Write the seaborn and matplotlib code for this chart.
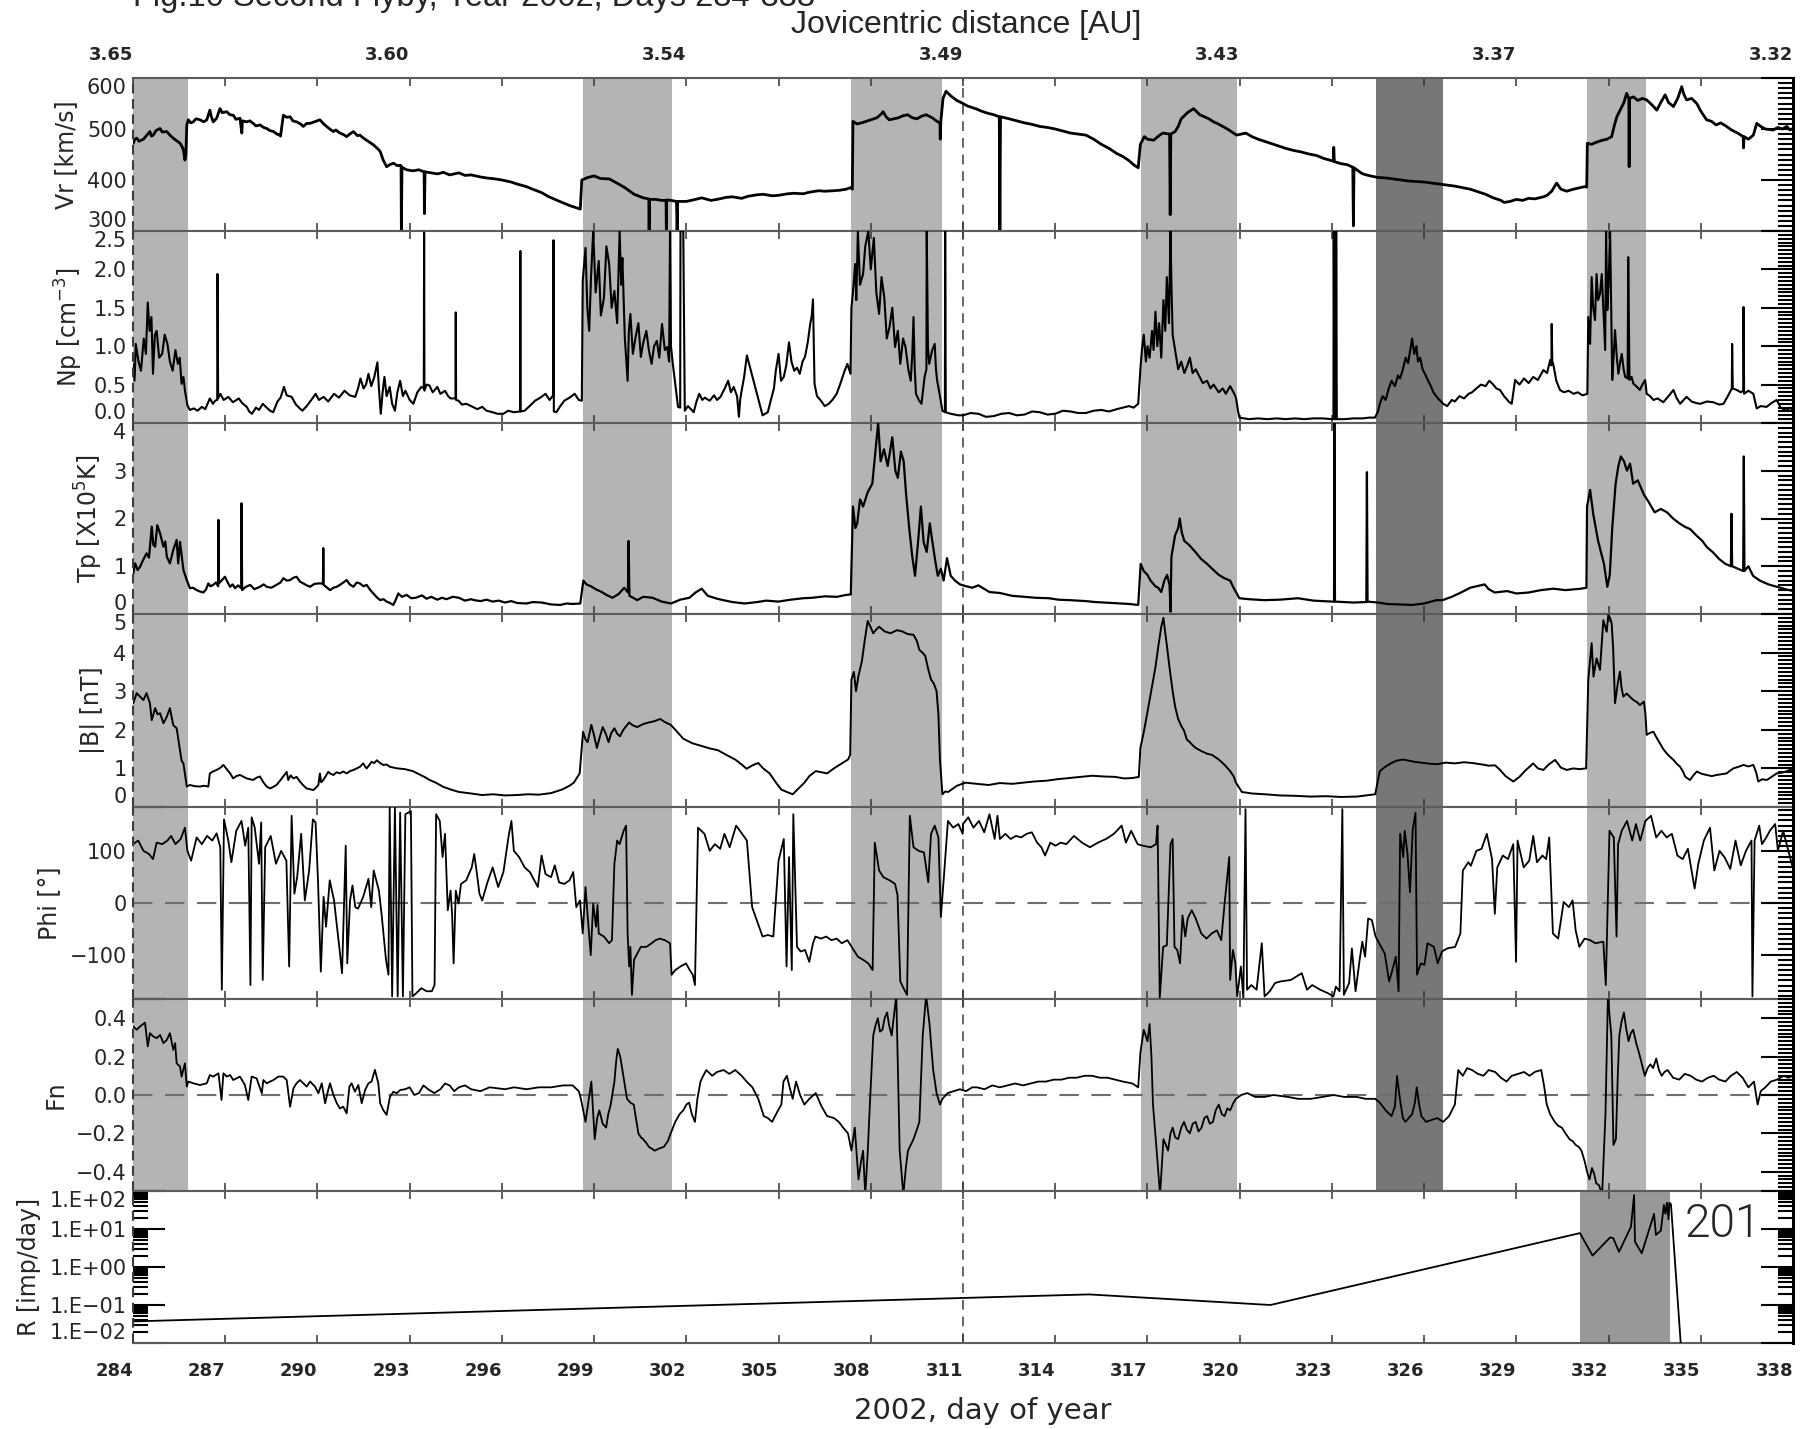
import numpy as np
import pandas as pd
import matplotlib
matplotlib.use("Agg")
import matplotlib.pyplot as plt
import seaborn as sns
from matplotlib.ticker import FixedLocator, MultipleLocator, LogLocator, NullFormatter, NullLocator

# ---------------------------------------------------------------- data
# Solar-wind speed [km/s]
vr_pts = [
(284.01,472),(284.06,480),(284.12,482),(284.2,476),(284.34,480),(284.45,488),(284.55,495),(284.6,486),(284.66,488),(284.75,497),
(284.88,501),(284.95,494),(285.10,495),(285.2,488),(285.31,482),(285.4,478),(285.53,472),(285.6,465),(285.64,459),(285.69,439),
(285.72,450),(285.75,508),(285.80,518),(285.88,512),(285.96,514),(286.05,520),(286.18,518),(286.3,514),(286.40,518),(286.50,537),
(286.55,524),(286.61,514),(286.72,521),(286.83,540),(286.9,532),(287.05,534),(287.15,528),(287.26,527),(287.35,519),(287.48,521),
(287.54,492),(287.56,516),(287.70,514),(287.8,516),(287.91,511),(288.0,506),(288.13,508),(288.25,503),(288.35,501),(288.45,497),
(288.57,495),(288.68,490),(288.78,488),(288.80,486),(288.89,527),(289.0,523),(289.11,524),(289.2,516),(289.32,514),(289.45,510),
(289.54,505),(289.65,511),(289.76,511),(289.9,514),(290.08,518),(290.2,510),(290.30,505),(290.4,500),(290.52,495),(290.6,498),
(290.73,492),(290.85,489),(290.95,485),(291.05,490),(291.17,495),(291.3,487),(291.38,488),(291.5,482),(291.60,478),(291.7,474),
(291.82,469),(291.95,462),(292.04,456),(292.14,439),(292.25,426),(292.35,430),(292.47,433),(292.6,428),(292.69,429),
(292.72,428),(292.73,300),(292.75,425),(292.9,420),(293.1,418),(293.3,420),(293.47,416),(293.48,334),(293.5,416),(293.7,414),
(293.9,412),(294.1,415),(294.3,410),(294.6,414),(294.8,409),(295.0,410),(295.3,406),(295.5,404),(295.8,402),(296.0,400),
(296.3,396),(296.5,392),(296.8,387),(297.0,382),(297.3,375),(297.5,368),(297.8,360),(298.0,355),(298.2,350),(298.4,346),
(298.55,343),(298.6,400),(298.8,405),(299.0,408),(299.2,403),(299.5,402),(299.8,392),(300.0,385),(300.3,372),(300.6,365),
(300.78,363),(300.79,300),(300.8,362),(301.0,362),(301.2,360),(301.34,360),(301.35,300),(301.36,361),(301.5,360),(301.68,358),
(301.7,300),(301.72,358),(302.0,358),(302.3,362),(302.5,365),(302.8,360),(303.0,362),(303.3,366),(303.5,367),(303.8,364),
(304.0,368),(304.3,371),(304.5,372),(304.8,369),(305.0,370),(305.3,373),(305.5,374),(305.8,373),(306.0,376),(306.3,379),
(306.5,378),(306.8,379),(307.0,380),(307.2,382),(307.35,385),(307.4,382),(307.42,515),(307.55,510),(307.7,512),(307.85,515),
(308.0,518),(308.2,522),(308.35,530),(308.4,534),(308.5,524),(308.6,518),(308.75,520),(308.9,522),(309.05,526),(309.2,528),
(309.35,522),(309.5,520),(309.65,525),(309.8,528),(310.0,522),(310.15,515),(310.25,512),(310.26,480),(310.28,515),(310.35,560),
(310.45,574),(310.6,565),(310.8,556),(311.0,550),(311.15,545),(311.3,542),(311.45,539),(311.6,535),(311.8,531),(312.0,528),
(312.18,524),(312.2,300),(312.22,524),(312.5,520),(312.75,516),(313.0,512),(313.25,509),(313.5,505),(313.75,503),(314.0,500),
(314.25,496),(314.5,492),(314.75,490),(315.0,488),(315.25,480),(315.5,470),(315.75,462),(316.0,452),(316.2,446),(316.4,438),
(316.55,430),(316.7,424),(316.77,470),(316.9,485),(317.0,480),(317.2,478),(317.4,488),(317.5,492),(317.72,490),(317.74,332),
(317.76,490),(317.9,495),(318.0,505),(318.1,520),(318.2,526),(318.3,532),(318.4,536),(318.5,540),(318.6,534),(318.7,528),
(318.85,524),(319.0,520),(319.15,514),(319.3,510),(319.45,505),(319.6,500),(319.75,494),(319.9,488),(320.05,490),(320.2,492),
(320.4,485),(320.6,480),(320.8,476),(321.0,472),(321.25,467),(321.5,462),(321.75,458),(322.0,455),(322.25,451),(322.5,448),
(322.75,442),(323.0,438),(323.05,437),(323.06,464),(323.08,436),(323.3,432),(323.5,430),(323.68,425),(323.7,310),(323.72,424),
(323.9,416),(324.0,412),(324.25,408),(324.5,405),(324.75,404),(325.0,402),(325.25,400),(325.5,398),(325.75,397),(326.0,396),
(326.25,394),(326.5,392),(326.75,390),(327.0,388),(327.25,385),(327.5,382),(327.75,377),(328.0,372),(328.25,365),(328.5,360),
(328.6,356),(328.8,358),(329.0,362),(329.2,360),(329.4,364),(329.6,363),(329.88,367),(330.0,370),(330.15,378),(330.31,394),
(330.45,382),(330.64,378),(330.8,381),(331.0,384),(331.23,387),(331.29,386),(331.31,472),(331.45,470),(331.6,474),(331.8,478),
(331.95,480),(332.1,485),(332.18,505),(332.27,524),(332.4,540),(332.5,552),(332.59,570),(332.66,560),(332.67,426),(332.68,560),
(332.81,563),(332.95,556),(333.1,560),(333.24,557),(333.4,548),(333.57,537),(333.7,552),(333.84,567),(333.95,552),(334.11,544),
(334.25,560),(334.38,583),(334.45,568),(334.54,557),(334.7,560),(334.87,550),(335.0,535),(335.19,518),(335.35,515),(335.5,508),
(335.65,512),(335.84,505),(336.0,498),(336.2,492),(336.38,485),(336.39,463),(336.41,485),(336.55,480),(336.71,488),(336.82,511),
(336.95,505),(337.1,500),(337.36,498),(337.5,503),(337.65,500),(337.8,505),(337.9,498),(338.0,501),
]

# Proton density [cm^-3]
np_pts = [
(284.00,0.77),(284.05,0.55),(284.09,1.03),(284.18,0.80),(284.26,0.68),(284.35,1.10),(284.42,0.90),(284.48,1.57),(284.54,1.20),(284.60,1.38),
(284.65,0.64),(284.71,1.15),(284.77,1.20),(284.85,0.85),(284.95,0.90),(285.03,1.15),(285.12,1.03),(285.2,0.80),(285.29,0.68),(285.38,0.95),
(285.46,0.77),(285.52,0.85),(285.58,0.51),(285.64,0.60),(285.69,0.42),(285.77,0.23),(285.85,0.17),(285.98,0.19),(286.1,0.16),(286.24,0.21),
(286.35,0.18),(286.50,0.32),(286.6,0.25),(286.67,0.29),(286.74,0.30),(286.75,1.94),(286.77,0.32),(286.84,0.38),(286.95,0.30),(287.10,0.34),
(287.25,0.27),(287.44,0.32),(287.55,0.26),(287.70,0.21),(287.78,0.15),(287.87,0.12),(288.0,0.20),(288.10,0.17),(288.22,0.25),(288.35,0.20),
(288.46,0.16),(288.56,0.14),(288.70,0.28),(288.80,0.33),(288.91,0.47),(289.0,0.36),(289.16,0.34),(289.3,0.24),(289.40,0.20),(289.51,0.16),
(289.65,0.22),(289.80,0.30),(289.94,0.38),(290.05,0.30),(290.20,0.34),(290.35,0.28),(290.54,0.38),(290.70,0.33),(290.88,0.42),(291.05,0.36),
(291.23,0.34),(291.32,0.45),(291.40,0.58),(291.50,0.45),(291.58,0.50),(291.66,0.64),(291.75,0.48),(291.85,0.60),(291.95,0.79),(292.0,0.45),
(292.06,0.12),(292.12,0.40),(292.18,0.60),(292.25,0.35),(292.35,0.47),(292.43,0.25),(292.52,0.16),(292.6,0.40),(292.69,0.55),(292.78,0.35),
(292.86,0.42),(293.0,0.30),(293.12,0.25),(293.25,0.40),(293.38,0.47),(293.46,0.45),(293.47,2.48),(293.48,0.42),(293.55,0.50),(293.64,0.49),
(293.75,0.40),(293.9,0.47),(294.0,0.38),(294.15,0.42),(294.25,0.35),(294.33,0.32),(294.49,0.32),(294.50,1.44),(294.51,0.30),(294.59,0.29),
(294.7,0.24),(294.84,0.25),(295.0,0.22),(295.2,0.18),(295.36,0.21),(295.5,0.16),(295.70,0.14),(295.85,0.12),(296.05,0.12),(296.2,0.16),
(296.39,0.14),(296.59,0.15),(296.60,2.24),(296.61,0.15),(296.74,0.16),(296.9,0.22),(297.08,0.29),(297.25,0.33),(297.42,0.38),(297.55,0.30),
(297.67,0.36),(297.68,2.38),(297.69,0.15),(297.77,0.14),(297.9,0.22),(298.03,0.29),(298.2,0.33),(298.37,0.38),(298.5,0.30),(298.60,0.29),
(298.63,1.85),(298.72,2.28),(298.78,1.50),(298.84,1.20),(298.90,1.90),(298.97,2.50),(299.05,1.70),(299.15,2.11),(299.22,1.40),(299.32,1.63),
(299.4,2.30),(299.49,2.07),(299.57,1.50),(299.66,1.72),(299.75,1.30),(299.83,2.50),(299.88,1.80),(299.92,2.15),(300.0,1.10),(300.09,0.55),
(300.13,1.20),(300.18,1.42),(300.26,0.90),(300.35,1.12),(300.44,1.30),(300.52,0.86),(300.6,1.05),(300.70,1.20),(300.78,0.95),(300.87,0.77),
(300.95,1.00),(301.04,1.07),(301.12,0.85),(301.21,1.29),(301.3,0.95),(301.38,0.99),(301.44,0.80),(301.47,2.50),(301.5,1.00),(301.56,0.77),
(301.64,0.51),(301.73,0.21),(301.80,0.20),(301.81,2.50),(301.90,2.50),(301.95,0.16),(302.05,0.22),(302.15,0.18),(302.24,0.14),(302.33,0.28),
(302.42,0.38),(302.52,0.30),(302.6,0.33),(302.76,0.29),(302.9,0.36),(303.0,0.30),(303.11,0.34),(303.25,0.45),(303.36,0.55),(303.45,0.40),
(303.54,0.47),(303.65,0.35),(303.71,0.08),(303.75,0.30),(303.79,0.40),(303.88,0.60),(303.97,0.88),(304.48,0.10),(304.56,0.12),(304.65,0.14),
(304.75,0.30),(304.85,0.45),(304.91,0.68),(305.0,0.90),(305.08,0.55),(305.17,0.60),(305.25,0.75),(305.34,1.05),(305.42,0.80),(305.51,0.68),
(305.6,0.72),(305.69,0.64),(305.78,0.80),(305.86,0.86),(305.95,1.05),(306.03,1.29),(306.08,1.40),(306.12,1.61),(306.17,0.51),(306.25,0.35),
(306.38,0.29),(306.5,0.22),(306.63,0.25),(306.75,0.30),(306.89,0.38),(307.0,0.50),(307.15,0.68),(307.24,0.77),(307.34,0.64),
(307.37,1.50),(307.42,1.70),(307.49,2.07),(307.53,1.60),(307.58,2.50),(307.65,1.80),(307.75,1.94),(307.82,2.30),(307.92,2.50),(308.0,2.00),
(308.10,2.41),(308.18,1.70),(308.27,1.42),(308.35,1.90),(308.44,1.63),(308.52,1.10),(308.61,1.25),(308.7,1.50),(308.79,0.99),(308.88,1.20),
(308.96,0.77),(309.05,1.10),(309.13,0.99),(309.22,0.70),(309.30,0.55),(309.35,0.90),(309.39,1.38),(309.43,0.70),(309.47,0.38),(309.56,0.30),
(309.65,0.25),(309.75,0.60),(309.81,0.70),(309.82,2.50),(309.86,1.00),(309.90,0.77),(310.0,0.95),(310.08,1.03),(310.12,0.70),(310.16,0.55),
(310.25,0.35),(310.33,0.16),(310.41,0.14),(310.42,2.50),(310.44,0.14),(310.6,0.12),(310.85,0.10),
(311.0,0.10),(311.25,0.13),(311.5,0.12),(311.75,0.08),(312.0,0.09),(312.25,0.12),(312.5,0.13),(312.75,0.10),(313.0,0.11),(313.25,0.15),
(313.5,0.14),(313.75,0.11),(314.0,0.12),(314.25,0.16),(314.5,0.15),(314.75,0.13),(315.0,0.13),(315.25,0.16),(315.5,0.17),(315.75,0.15),
(316.0,0.18),(316.2,0.20),(316.4,0.22),(316.55,0.20),(316.7,0.25),
(316.77,0.70),(316.82,0.95),(316.88,1.15),(316.95,0.80),(317.0,1.00),(317.07,0.85),(317.15,1.20),(317.2,0.95),(317.26,1.45),(317.32,1.00),
(317.38,1.30),(317.45,0.85),(317.52,1.60),(317.58,1.20),(317.63,1.90),(317.7,1.30),(317.75,2.50),(317.78,1.80),(317.82,1.15),(317.9,0.95),
(318.0,0.70),(318.1,0.80),(318.2,0.65),(318.3,0.75),(318.38,0.85),(318.47,0.65),(318.57,0.70),(318.7,0.60),(318.8,0.52),(318.94,0.55),
(319.05,0.45),(319.15,0.50),(319.32,0.40),(319.45,0.45),(319.55,0.38),(319.69,0.48),(319.8,0.40),(319.88,0.33),(319.95,0.15),(319.99,0.07),
(320.3,0.05),(320.6,0.06),(320.9,0.05),(321.2,0.06),(321.5,0.05),(321.8,0.06),(322.1,0.05),(322.4,0.06),(322.7,0.06),(323.0,0.05),
(323.05,0.05),(323.06,2.50),(323.08,0.05),(323.13,0.05),(323.14,2.50),(323.16,0.05),(323.4,0.05),(323.7,0.06),(324.0,0.06),(324.2,0.07),
(324.4,0.07),(324.5,0.15),(324.56,0.25),(324.65,0.35),(324.75,0.30),(324.85,0.45),(324.94,0.55),(325.05,0.48),(325.15,0.62),(325.22,0.58),
(325.31,0.70),(325.4,0.85),(325.48,0.78),(325.55,0.95),(325.61,1.10),(325.68,0.90),(325.75,1.00),(325.8,0.80),(325.87,0.85),(325.95,0.70),
(326.05,0.62),(326.13,0.55),(326.22,0.48),(326.3,0.40),(326.43,0.33),(326.55,0.28),(326.62,0.25),(326.75,0.22),(326.9,0.30),(327.0,0.28),
(327.15,0.35),(327.3,0.32),(327.45,0.38),(327.56,0.40),(327.7,0.45),(327.85,0.50),(328.0,0.48),(328.12,0.55),(328.25,0.50),(328.35,0.45),
(328.47,0.43),(328.6,0.35),(328.75,0.28),(328.85,0.25),(328.96,0.56),(329.1,0.50),(329.25,0.58),(329.4,0.52),(329.55,0.60),(329.7,0.56),
(329.88,0.69),(330.0,0.65),(330.10,0.82),(330.14,0.75),(330.15,1.29),(330.17,0.80),(330.20,0.77),(330.3,0.55),(330.42,0.43),(330.55,0.40),
(330.7,0.42),(330.86,0.38),(331.0,0.40),(331.15,0.36),(331.31,0.38),
(331.34,1.38),(331.40,1.03),(331.45,1.90),(331.50,1.50),(331.56,1.34),(331.61,1.94),(331.66,1.60),(331.72,1.68),(331.78,1.94),(331.84,1.40),
(331.89,0.95),(331.92,2.50),(331.96,1.47),(332.0,1.80),(332.05,2.50),(332.12,0.56),(332.17,0.90),(332.21,1.21),(332.27,0.85),(332.32,0.64),
(332.38,0.80),(332.43,0.90),(332.49,0.70),(332.54,0.60),(332.62,0.58),(332.64,2.16),(332.68,0.56),(332.75,0.60),(332.81,0.51),(332.9,0.48),
(333.02,0.43),(333.1,0.50),(333.19,0.56),(333.24,0.38),(333.35,0.35),(333.46,0.30),(333.6,0.32),(333.78,0.27),(333.95,0.35),(334.11,0.43),
(334.22,0.32),(334.33,0.25),(334.44,0.30),(334.54,0.34),(334.7,0.28),(334.85,0.26),(334.98,0.25),(335.2,0.28),(335.41,0.27),(335.6,0.24),
(335.74,0.25),(335.88,0.35),(336.01,0.45),(336.02,1.03),(336.04,0.45),(336.17,0.43),(336.3,0.40),(336.38,0.42),(336.39,1.51),(336.41,0.38),
(336.55,0.42),(336.71,0.38),(336.82,0.19),(336.95,0.22),(337.14,0.21),(337.3,0.26),(337.47,0.30),(337.6,0.20),(337.8,0.16),(337.9,0.20),
(338.0,0.17),
]

# Proton temperature [1e5 K]
tp_pts = [
(284.01,0.85),(284.07,1.06),(284.15,0.92),(284.23,0.99),(284.32,1.12),(284.44,1.27),(284.52,1.18),(284.61,1.83),(284.66,1.45),(284.72,1.41),
(284.79,1.86),(284.88,1.69),(284.99,1.41),(285.05,1.52),(285.10,1.20),(285.20,1.06),(285.31,1.34),(285.42,1.55),(285.47,1.06),(285.53,1.51),
(285.64,0.92),(285.75,0.71),(285.85,0.54),(285.95,0.55),(286.07,0.50),(286.18,0.47),(286.29,0.45),(286.38,0.52),(286.45,0.64),(286.52,0.58),
(286.61,0.61),(286.70,0.66),(286.77,0.58),(286.78,1.97),(286.79,0.64),(286.88,0.70),(286.99,0.78),(287.08,0.66),(287.16,0.57),(287.24,0.62),
(287.32,0.54),(287.42,0.60),(287.52,0.54),(287.53,2.32),(287.55,0.50),(287.65,0.56),(287.81,0.61),(287.95,0.52),(288.13,0.57),(288.25,0.62),
(288.35,0.57),(288.50,0.55),(288.67,0.61),(288.80,0.66),(288.89,0.75),(289.0,0.70),(289.11,0.71),(289.22,0.76),(289.32,0.78),(289.43,0.68),
(289.54,0.64),(289.65,0.60),(289.76,0.57),(289.9,0.63),(290.03,0.64),(290.18,0.64),(290.19,1.38),(290.20,0.61),(290.30,0.56),(290.41,0.50),
(290.52,0.55),(290.63,0.57),(290.8,0.64),(290.95,0.71),(291.05,0.62),(291.17,0.57),(291.28,0.66),(291.38,0.64),(291.5,0.58),(291.60,0.61),
(291.72,0.50),(291.82,0.43),(291.93,0.35),(292.04,0.29),(292.15,0.31),(292.25,0.26),(292.36,0.23),(292.47,0.19),(292.55,0.30),(292.63,0.43),
(292.75,0.36),(292.9,0.40),(293.05,0.33),(293.2,0.34),(293.4,0.39),(293.55,0.32),(293.7,0.36),(293.9,0.30),(294.05,0.34),(294.2,0.31),
(294.4,0.36),(294.6,0.34),(294.8,0.28),(295.0,0.31),(295.1,0.29),(295.3,0.27),(295.5,0.30),(295.7,0.26),(295.9,0.28),(296.1,0.24),
(296.3,0.27),(296.5,0.23),(296.8,0.22),(297.0,0.25),(297.3,0.24),(297.6,0.20),(297.9,0.19),(298.1,0.22),(298.3,0.21),(298.55,0.22),
(298.65,0.70),(298.75,0.62),(298.9,0.58),(299.05,0.52),(299.25,0.46),(299.4,0.40),(299.6,0.34),(299.8,0.42),(299.98,0.55),(300.10,0.45),
(300.12,1.53),(300.15,0.38),(300.3,0.33),(300.4,0.29),(300.6,0.36),(300.9,0.34),(301.2,0.26),(301.5,0.22),(301.8,0.30),(302.1,0.34),
(302.3,0.45),(302.5,0.53),(302.7,0.38),(303.0,0.32),(303.2,0.29),(303.5,0.25),(303.9,0.22),(304.3,0.25),(304.6,0.28),(305.0,0.26),
(305.4,0.30),(305.8,0.33),(306.1,0.34),(306.5,0.37),(306.9,0.36),(307.2,0.40),(307.35,0.41),
(307.42,2.25),(307.5,1.80),(307.56,1.90),(307.65,2.40),(307.75,2.25),(307.9,2.55),(308.05,2.73),(308.15,3.40),(308.24,4.0),(308.32,3.20),
(308.43,3.45),(308.55,3.10),(308.7,3.70),(308.8,3.00),(308.88,2.85),(308.98,3.40),(309.07,3.20),(309.15,2.50),(309.25,1.80),(309.35,1.20),
(309.44,0.80),(309.55,1.60),(309.63,2.25),(309.72,1.50),(309.82,1.30),(309.92,1.90),(310.0,1.53),(310.1,1.10),(310.18,0.80),(310.28,0.95),
(310.37,0.70),(310.48,1.17),(310.6,0.80),(310.74,0.70),(310.9,0.62),(311.11,0.58),(311.3,0.55),(311.5,0.60),(311.86,0.46),(312.2,0.44),
(312.6,0.38),(313.0,0.36),(313.35,0.34),(313.8,0.33),(314.1,0.30),(314.47,0.29),(315.0,0.27),(315.3,0.25),(315.6,0.24),(316.1,0.22),
(316.4,0.21),(316.7,0.19),
(316.78,1.05),(316.88,0.90),(317.0,0.82),(317.1,0.70),(317.26,0.58),(317.35,0.55),(317.45,0.46),(317.55,0.70),(317.64,0.82),(317.72,0.60),
(317.75,0.05),(317.78,1.20),(317.9,1.65),(318.0,1.80),(318.05,2.00),(318.12,1.70),(318.2,1.53),(318.35,1.45),(318.57,1.29),(318.75,1.15),
(318.94,1.05),(319.1,0.95),(319.32,0.82),(319.5,0.75),(319.69,0.70),(319.8,0.55),(319.88,0.46),(319.99,0.33),(320.3,0.31),(320.8,0.29),
(321.3,0.30),(321.9,0.33),(322.4,0.28),(323.0,0.26),(323.07,0.26),(323.08,4.0),(323.1,0.26),(323.4,0.25),(323.7,0.24),(324.12,0.25),
(324.14,2.97),(324.16,0.26),(324.5,0.24),(324.8,0.21),(325.2,0.20),(325.6,0.19),(326.0,0.22),(326.4,0.29),(326.6,0.29),(326.9,0.36),
(327.2,0.45),(327.5,0.55),(327.97,0.62),(328.1,0.52),(328.3,0.45),(328.7,0.48),(329.0,0.43),(329.4,0.45),(329.8,0.50),(330.2,0.53),
(330.6,0.50),(331.1,0.53),(331.28,0.55),
(331.3,2.25),(331.4,2.60),(331.5,2.10),(331.66,1.53),(331.75,1.30),(331.85,1.05),(331.96,0.57),(332.04,0.82),(332.12,1.80),(332.23,2.73),
(332.32,3.10),(332.4,3.30),(332.5,3.20),(332.6,3.00),(332.7,3.15),(332.8,2.73),(332.95,2.80),(333.15,2.50),(333.3,2.35),(333.5,2.13),
(333.7,2.20),(333.9,2.13),(334.1,2.00),(334.3,1.90),(334.5,1.82),(334.65,1.78),(334.85,1.65),(335.05,1.53),(335.2,1.40),(335.4,1.29),
(335.6,1.15),(335.8,1.05),(335.98,1.00),(336.0,2.10),(336.02,1.00),(336.2,0.95),(336.38,0.90),(336.4,3.30),(336.42,0.90),(336.55,1.00),
(336.7,0.80),(336.92,0.70),(337.2,0.62),(337.48,0.57),(337.75,0.52),(338.0,0.48),
]

# Magnetic field magnitude [nT]
b_pts = [
(284.01,2.69),(284.12,2.95),(284.23,2.86),(284.34,2.77),(284.44,2.95),(284.55,2.69),(284.61,2.25),(284.72,2.56),(284.80,2.40),(284.88,2.43),
(284.99,2.17),(285.10,2.34),(285.20,2.56),(285.31,2.12),(285.42,2.04),(285.53,1.47),(285.58,1.20),(285.64,1.13),(285.70,0.80),(285.75,0.53),
(285.85,0.57),(286.0,0.54),(286.18,0.53),(286.30,0.55),(286.45,0.53),(286.50,0.87),(286.60,0.92),(286.72,0.96),(286.85,1.02),(286.94,1.09),
(287.05,0.98),(287.16,0.87),(287.26,0.74),(287.36,0.80),(287.48,0.83),(287.6,0.78),(287.70,0.74),(287.80,0.72),(287.91,0.70),(288.02,0.76),
(288.13,0.79),(288.24,0.64),(288.35,0.53),(288.46,0.48),(288.56,0.52),(288.67,0.57),(288.80,0.70),(289.0,0.91),(289.05,0.70),(289.13,0.82),
(289.22,0.74),(289.32,0.78),(289.43,0.66),(289.54,0.56),(289.65,0.48),(289.76,0.46),(289.87,0.44),(289.95,0.50),(290.03,0.57),(290.08,0.87),
(290.12,0.64),(290.19,0.70),(290.27,0.80),(290.35,0.91),(290.43,0.86),(290.52,0.83),(290.62,0.90),(290.73,0.87),(290.84,0.92),(290.95,0.87),
(291.06,0.93),(291.17,0.96),(291.28,1.00),(291.38,1.04),(291.49,1.13),(291.55,1.05),(291.60,1.00),(291.68,1.08),(291.76,1.17),(291.85,1.14),
(291.93,1.21),(292.04,1.14),(292.14,1.09),(292.25,1.10),(292.36,1.04),(292.6,1.0),(292.85,0.98),(293.1,0.93),(293.3,0.85),(293.48,0.78),
(293.65,0.70),(293.85,0.63),(294.1,0.52),(294.35,0.45),(294.6,0.39),(295.0,0.35),(295.35,0.31),(295.72,0.33),(296.1,0.30),(296.5,0.31),
(296.85,0.33),(297.2,0.32),(297.6,0.36),(297.95,0.45),(298.2,0.55),(298.34,0.63),(298.53,0.87),
(298.64,1.95),(298.72,1.75),(298.79,1.68),(298.85,1.90),(298.91,2.13),(299.0,1.85),(299.09,1.53),(299.18,1.80),(299.28,2.07),(299.38,1.90),
(299.47,1.68),(299.56,1.92),(299.66,2.04),(299.75,1.90),(299.84,1.83),(299.95,2.00),(300.05,2.10),(300.14,2.19),(300.25,2.12),(300.4,2.07),
(300.6,2.15),(300.78,2.19),(300.95,2.22),(301.15,2.28),(301.3,2.20),(301.49,2.13),(301.7,1.95),(301.9,1.77),(302.2,1.65),(302.46,1.59),
(302.75,1.52),(303.03,1.47),(303.3,1.35),(303.59,1.23),(303.8,1.10),(303.96,0.99),(304.15,1.08),(304.34,1.14),(304.5,1.00),(304.71,0.87),
(304.9,0.65),(305.09,0.45),(305.3,0.38),(305.46,0.33),(305.65,0.48),(305.84,0.63),(306.0,0.80),(306.21,0.93),(306.4,0.90),(306.58,0.87),
(306.8,1.00),(306.96,1.08),(307.1,1.15),(307.26,1.23),(307.33,1.35),
(307.37,3.30),(307.45,3.50),(307.52,3.00),(307.6,3.40),(307.71,3.77),(307.8,4.30),(307.9,4.82),(308.0,4.65),(308.08,4.50),(308.18,4.60),
(308.27,4.67),(308.45,4.55),(308.64,4.50),(308.85,4.58),(309.02,4.55),(309.2,4.48),(309.39,4.46),(309.5,4.30),(309.58,4.07),(309.68,4.00),
(309.77,3.92),(309.86,3.60),(309.96,3.30),(310.05,3.20),(310.14,3.00),(310.2,2.40),(310.25,1.23),(310.33,0.33),(310.42,0.40),(310.52,0.39),
(310.8,0.55),(311.08,0.63),(311.45,0.60),(311.83,0.57),(312.2,0.62),(312.6,0.60),(312.95,0.63),(313.3,0.66),(313.7,0.68),(314.07,0.72),
(314.45,0.75),(314.8,0.78),(315.2,0.81),(315.6,0.79),(315.95,0.78),(316.25,0.74),(316.51,0.75),(316.72,0.78),
(316.77,1.53),(316.87,1.90),(316.96,2.28),(317.1,2.90),(317.26,3.62),(317.36,4.20),(317.45,4.67),(317.52,4.90),(317.58,4.50),(317.63,4.20),
(317.72,3.60),(317.82,3.00),(317.9,2.60),(318.0,2.28),(318.1,2.10),(318.19,1.98),(318.28,1.75),(318.38,1.68),(318.47,1.60),(318.57,1.53),
(318.75,1.45),(318.94,1.38),(319.1,1.35),(319.32,1.23),(319.5,1.10),(319.69,0.93),(319.8,0.80),(319.88,0.63),(320.07,0.39),(320.4,0.35),
(320.82,0.33),(321.3,0.30),(321.8,0.29),(322.31,0.27),(322.8,0.28),(323.3,0.26),(323.81,0.27),(324.1,0.30),(324.41,0.33),
(324.5,0.70),(324.56,0.93),(324.75,1.05),(324.94,1.14),(325.1,1.20),(325.31,1.23),(325.5,1.20),(325.69,1.17),(326.0,1.14),(326.2,1.12),
(326.43,1.11),(326.7,1.15),(327.0,1.13),(327.3,1.16),(327.56,1.14),(327.9,1.10),(328.1,1.07),(328.31,1.08),(328.47,0.96),
(328.65,0.80),(328.9,0.66),(329.1,0.78),(329.3,0.95),(329.55,1.13),(329.7,1.00),(329.88,0.96),(330.05,1.10),(330.26,1.22),(330.45,1.02),
(330.64,0.96),(330.85,1.00),(331.05,0.98),(331.27,1.00),
(331.34,3.29),(331.45,4.24),(331.51,3.38),(331.61,3.85),(331.72,3.55),(331.83,4.84),(331.94,4.54),(331.99,4.97),(332.05,4.90),(332.1,4.76),
(332.15,4.10),(332.21,2.69),(332.3,3.20),(332.37,3.51),(332.42,3.10),(332.48,2.86),(332.59,2.94),(332.7,2.85),(332.81,2.77),(332.92,2.72),
(333.02,2.64),(333.15,2.73),(333.2,2.40),(333.24,1.87),(333.35,1.92),(333.46,1.95),(333.56,1.80),(333.67,1.65),(333.78,1.50),(333.89,1.39),
(334.0,1.30),(334.11,1.22),(334.22,1.12),(334.33,1.04),(334.42,0.92),(334.49,0.79),(334.57,0.74),(334.65,0.70),(334.76,0.82),(334.87,0.92),
(335.03,0.86),(335.19,0.83),(335.35,0.80),(335.52,0.83),(335.68,0.85),(335.84,0.87),(335.95,0.94),(336.06,1.00),(336.22,1.04),(336.39,1.09),
(336.55,1.05),(336.71,1.09),(336.8,0.90),(336.87,0.66),(337.0,0.72),(337.15,0.70),(337.3,0.78),(337.47,0.87),(337.7,0.90),(337.9,0.96),
(338.0,0.95),
]

# Field azimuth Phi [deg]
phi_pts = [
(284.00,114),(284.17,121),(284.34,101),(284.52,95),(284.65,85),(284.77,117),(284.95,114),(285.12,121),(285.24,130),(285.38,114),
(285.55,124),(285.69,146),(285.77,101),(285.89,82),(286.07,127),(286.24,114),(286.41,130),(286.58,121),(286.72,135),(286.84,108),
(286.89,-168),(286.96,162),(287.10,121),(287.20,79),(287.36,140),(287.53,159),(287.65,111),(287.75,146),(287.82,-159),(287.86,166),
(287.96,146),(288.10,76),(288.17,156),(288.22,-149),(288.30,108),(288.48,130),(288.65,76),(288.82,101),(288.99,82),(289.08,-123),
(289.16,169),(289.25,18),(289.34,50),(289.47,134),(289.59,5),(289.73,63),(289.85,162),(289.94,156),(290.02,40),(290.11,-133),
(290.20,12),(290.28,-46),(290.40,44),(290.54,5),(290.71,-85),(290.80,-136),(290.92,111),(290.97,-117),(291.06,5),(291.14,34),
(291.23,-8),(291.32,-11),(291.49,12),(291.66,47),(291.75,-8),(291.83,63),(292.00,24),(292.09,-24),(292.23,-110),(292.31,-139),
(292.35,185),(292.43,-181),(292.52,185),(292.61,-181),(292.69,175),(292.78,-181),(292.86,172),(293.04,178),(293.09,-181),(293.21,-175),
(293.38,-165),(293.55,-171),(293.72,-171),(293.81,-159),(293.86,172),(293.98,159),(294.07,89),(294.15,134),(294.24,-14),(294.33,24),
(294.38,-21),(294.43,-117),(294.50,24),(294.59,-1),(294.67,37),(294.84,44),(295.02,69),(295.10,95),(295.19,56),(295.27,18),
(295.36,5),(295.53,40),(295.70,69),(295.88,31),(296.05,60),(296.22,130),(296.31,159),(296.39,101),(296.56,89),(296.74,69),
(296.91,60),(297.17,31),(297.29,92),(297.42,56),(297.60,50),(297.72,73),(297.86,40),(298.03,37),(298.20,44),(298.32,60),
(298.42,-8),(298.54,5),(298.63,-59),(298.72,31),(298.80,-33),(298.89,-101),(298.97,-1),(299.06,-46),(299.11,-4),(299.15,-59),
(299.32,-65),(299.49,-78),(299.58,-72),(299.66,76),(299.75,121),(299.83,114),(299.96,140),(300.04,150),(300.09,-59),(300.14,-123),
(300.18,-85),(300.23,-178),(300.30,-110),(300.35,-104),(300.52,-85),(300.70,-85),(300.87,-78),(301.00,-72),(301.13,-69),(301.30,-72),
(301.47,-78),(301.52,-139),(301.64,-130),(301.81,-123),(301.99,-117),(302.11,-130),(302.21,-139),(302.28,-159),(302.38,146),(302.59,134),
(302.76,101),(302.93,114),(303.10,105),(303.24,134),(303.41,108),(303.62,150),(303.97,121),(304.14,-8),(304.48,-65),(304.65,-62),
(304.83,-65),(305.00,82),(305.17,124),(305.26,-123),(305.34,89),(305.43,-130),(305.48,172),(305.60,-85),(305.72,-94),(305.86,-91),
(306.00,-114),(306.12,-78),(306.20,-65),(306.38,-69),(306.55,-65),(306.72,-72),(306.89,-69),(307.06,-78),(307.24,-72),(307.41,-88),
(307.58,-104),(307.75,-110),(307.92,-117),(308.06,-130),(308.13,117),(308.27,63),(308.41,50),(308.61,44),(308.79,37),(308.87,15),
(308.96,-152),(309.09,-168),(309.18,-178),(309.27,169),(309.39,108),(309.56,101),(309.73,98),(309.87,40),(309.96,134),(310.08,150),
(310.20,127),(310.28,-27),(310.37,44),(310.51,159),(310.68,146),(310.85,153),(310.99,134),
(311.00,153),(311.17,166),(311.34,146),(311.52,159),(311.69,137),(311.86,172),(312.03,124),(312.12,169),(312.20,124),(312.38,134),
(312.55,124),(312.72,130),(312.89,127),(313.07,134),(313.24,137),(313.41,117),(313.55,108),(313.67,92),(313.84,117),(314.01,111),
(314.18,117),(314.36,114),(314.61,130),(314.87,117),(315.13,108),(315.39,117),(315.65,124),(315.91,134),(316.16,150),(316.30,117),
(316.47,140),(316.68,114),(316.85,111),(317.11,108),(317.28,114),(317.33,150),(317.40,-184),(317.51,-85),(317.63,-82),(317.75,114),
(317.82,124),(317.88,-85),(317.97,-91),(318.06,-117),(318.14,-24),(318.23,-65),(318.31,-30),(318.44,-14),(318.57,-30),(318.75,-59),
(318.92,-69),(319.09,-59),(319.26,-53),(319.40,-72),(319.52,5),(319.61,60),(319.66,89),(319.69,-149),(319.78,-91),(319.86,-117),
(319.92,-181),(320.04,-123),(320.12,-185),(320.19,182),(320.24,-168),(320.38,-159),(320.55,-168),(320.72,-78),(320.81,-181),(320.98,-171),
(321.15,-155),(321.33,-152),(321.67,-149),(322.02,-136),(322.19,-168),(322.36,-159),(322.62,-168),(322.88,-175),(323.05,-181),(323.13,-162),
(323.25,-171),(323.34,182),(323.39,-178),(323.56,-155),(323.65,-88),(323.77,-171),(323.91,-107),(323.99,-75),(324.08,-104),(324.18,-30),
(324.30,-33),(324.42,-65),(324.60,-85),(324.72,-98),(324.86,-152),(324.94,-136),(325.08,-104),(325.17,-171),(325.22,134),(325.32,89),
(325.37,140),(325.46,95),(325.54,21),(325.63,143),(325.72,175),(325.77,-139),(325.89,-117),(326.01,-120),(326.11,-78),(326.32,-85),
(326.44,-117),(326.58,-94),(326.75,-88),(327.01,-85),(327.18,-59),(327.26,63),(327.44,79),(327.52,72),(327.70,101),(327.87,105),
(328.04,134),(328.21,85),(328.30,-21),(328.38,69),(328.56,92),(328.73,85),(328.90,114),(328.99,-114),(329.04,121),(329.24,69),
(329.42,82),(329.55,130),(329.67,79),(329.85,92),(329.97,85),(330.07,127),(330.19,-59),(330.36,-69),(330.54,2),(330.71,-8),
(330.83,5),(330.93,-53),(331.05,-85),(331.22,-69),(331.40,-72),(331.57,-78),(331.83,-75),(331.91,-159),(332.03,140),(332.17,127),
(332.26,-65),(332.31,114),(332.43,140),(332.60,159),(332.77,121),(332.89,153),(333.03,121),(333.20,159),(333.38,169),(333.55,127),
(333.72,140),(333.89,127),(334.06,134),(334.24,92),(334.41,85),(334.58,105),(334.80,28),(334.92,76),(335.10,121),(335.30,146),
(335.44,63),(335.61,101),(335.78,88),(335.96,66),(336.13,121),(336.30,73),(336.47,101),(336.65,121),(336.68,-181),(336.75,121),
(336.90,150),(336.99,114),(337.13,127),(337.25,140),(337.42,153),(337.51,101),(337.68,140),(337.85,101),(337.99,69),
]

# Normal field component Fn
fn_pts = [
(284.01,0.357),(284.12,0.340),(284.23,0.357),(284.39,0.377),(284.48,0.253),(284.55,0.322),(284.66,0.305),(284.77,0.296),(284.88,0.313),(284.99,0.270),
(285.10,0.287),(285.20,0.322),(285.31,0.235),(285.37,0.270),(285.42,0.165),(285.53,0.148),(285.58,0.096),(285.69,0.165),(285.75,0.044),(285.80,0.070),
(285.96,0.061),(286.18,0.052),(286.40,0.061),(286.50,0.104),(286.61,0.096),(286.78,0.113),(286.88,-0.026),(286.94,0.113),(287.05,0.096),(287.16,0.104),
(287.26,0.078),(287.37,0.087),(287.48,0.096),(287.64,0.052),(287.75,-0.026),(287.86,0.096),(288.02,0.087),(288.19,0.009),(288.24,0.078),(288.35,0.061),
(288.46,0.070),(288.57,0.078),(288.73,0.096),(288.89,0.096),(289.00,0.078),(289.11,-0.061),(289.22,0.035),(289.32,0.061),(289.43,0.078),(289.54,0.061),
(289.65,0.044),(289.76,0.070),(289.92,0.044),(290.03,0.009),(290.14,0.061),(290.25,-0.043),(290.35,0.026),(290.41,0.061),(290.52,0.000),(290.63,-0.043),
(290.73,-0.070),(290.84,-0.061),(290.95,-0.096),(291.04,0.044),(291.11,0.061),(291.22,0.017),(291.33,0.052),(291.44,-0.043),(291.55,0.026),(291.66,0.061),
(291.76,0.070),(291.87,0.131),(291.98,0.061),(292.04,-0.043),(292.14,-0.078),(292.25,-0.104),(292.36,-0.009),(292.47,0.017),(292.58,0.009),(292.69,0.026),
(292.85,0.03),(293.0,0.04),(293.15,0.00),(293.3,0.01),(293.45,0.05),(293.6,0.03),(293.8,0.01),(294.0,0.03),(294.15,0.06),(294.3,0.05),
(294.45,0.02),(294.6,0.04),(294.8,0.05),(295.0,0.03),(295.3,0.02),(295.6,0.04),(296.1,0.03),(296.4,0.04),(296.8,0.03),(297.2,0.04),
(297.6,0.04),(298.0,0.05),(298.3,0.05),(298.5,0.02),(298.57,-0.02),
(298.72,-0.14),(298.8,-0.05),(298.91,0.07),(299.02,-0.23),(299.1,-0.12),(299.17,-0.08),(299.28,-0.15),(299.39,-0.17),(299.46,-0.10),(299.54,-0.05),
(299.66,0.07),(299.72,0.18),(299.77,0.24),(299.85,0.20),(299.92,0.13),(300.0,0.05),(300.07,-0.02),(300.18,-0.04),(300.29,-0.05),(300.36,-0.12),
(300.44,-0.20),(300.52,-0.22),(300.59,-0.23),(300.7,-0.25),(300.78,-0.27),(300.88,-0.28),(300.97,-0.29),(301.1,-0.28),(301.27,-0.27),(301.4,-0.24),
(301.49,-0.20),(301.64,-0.14),(301.78,-0.10),(301.9,-0.08),(302.0,-0.05),(302.09,-0.04),(302.18,-0.10),(302.28,-0.14),(302.36,-0.02),(302.46,0.07),
(302.55,0.10),(302.65,0.13),(302.84,0.10),(303.0,0.12),(303.21,0.13),(303.4,0.11),(303.59,0.13),(303.8,0.10),(303.96,0.07),(304.15,0.04),
(304.34,-0.02),(304.52,-0.11),(304.65,-0.12),(304.79,-0.14),(304.95,-0.09),(305.09,-0.05),(305.16,0.07),(305.27,0.10),(305.36,0.04),(305.46,-0.02),
(305.57,0.07),(305.7,0.00),(305.84,-0.05),(306.0,-0.02),(306.21,0.01),(306.4,-0.06),(306.58,-0.11),(306.8,-0.12),(306.96,-0.14),(307.1,-0.17),
(307.26,-0.20),(307.37,-0.29),
(307.48,-0.17),(307.6,-0.44),(307.68,-0.35),(307.75,-0.29),(307.82,-0.52),(307.9,-0.30),(307.97,-0.05),(308.08,0.31),(308.15,0.36),(308.23,0.40),
(308.3,0.33),(308.38,0.34),(308.45,0.40),(308.53,0.43),(308.6,0.36),(308.68,0.31),(308.76,0.42),(308.83,0.52),(308.94,-0.29),(309.06,-0.52),
(309.14,-0.38),(309.21,-0.29),(309.3,-0.26),(309.39,-0.23),(309.5,-0.18),(309.58,-0.14),(309.69,0.31),(309.8,0.52),(309.91,0.37),(310.03,0.13),
(310.14,0.01),(310.25,-0.05),(310.33,-0.02),
(310.5,0.01),(310.7,0.02),(310.9,0.03),(311.1,0.02),(311.3,0.04),(311.45,0.04),(311.7,0.03),(311.95,0.05),(312.2,0.04),(312.45,0.05),
(312.7,0.06),(312.95,0.05),(313.2,0.06),(313.45,0.07),(313.7,0.07),(313.95,0.08),(314.2,0.08),(314.45,0.09),(314.7,0.09),(314.95,0.10),
(315.2,0.10),(315.45,0.09),(315.7,0.09),(315.95,0.08),(316.2,0.07),(316.51,0.06),(316.7,0.04),
(316.77,0.22),(316.88,0.34),(317.0,0.28),(317.07,0.37),(317.13,0.20),(317.18,-0.05),(317.3,-0.29),(317.41,-0.52),(317.52,-0.23),(317.6,-0.26),
(317.67,-0.29),(317.75,-0.20),(317.82,-0.17),(317.9,-0.22),(318.0,-0.23),(318.1,-0.17),(318.19,-0.14),(318.28,-0.18),(318.38,-0.20),(318.47,-0.15),
(318.57,-0.14),(318.66,-0.19),(318.76,-0.17),(318.85,-0.12),(318.94,-0.11),(319.03,-0.15),(319.13,-0.14),(319.22,-0.08),(319.32,-0.05),(319.42,-0.10),
(319.51,-0.11),(319.6,-0.07),(319.69,-0.08),(319.8,-0.04),(319.88,-0.02),
(320.05,0.00),(320.25,0.01),(320.5,-0.01),(320.82,-0.01),(321.1,0.00),(321.57,-0.01),(321.9,-0.02),(322.31,-0.02),(322.7,-0.01),(323.06,0.00),
(323.4,-0.01),(323.81,-0.01),(324.1,-0.02),(324.41,-0.02),
(324.56,-0.04),(324.75,-0.08),(324.94,-0.11),(325.05,-0.06),(325.12,0.10),(325.18,0.02),(325.24,-0.05),(325.31,-0.12),(325.39,-0.14),(325.5,-0.12),
(325.61,-0.10),(325.7,-0.04),(325.76,0.04),(325.84,-0.05),(325.91,-0.11),(326.06,-0.14),(326.25,-0.13),(326.43,-0.12),(326.62,-0.14),(326.81,-0.11),
(327.0,-0.05),(327.11,0.13),(327.26,0.10),(327.4,0.14),(327.56,0.13),(327.75,0.11),(327.93,0.10),(328.1,0.13),(328.31,0.12),(328.5,0.09),
(328.68,0.07),(328.85,0.10),(329.06,0.11),(329.25,0.12),(329.43,0.10),(329.6,0.12),(329.81,0.13),(329.9,0.05),(329.99,-0.05),(330.1,-0.10),
(330.25,-0.14),(330.36,-0.16),(330.48,-0.17),(330.6,-0.20),(330.73,-0.23),(330.83,-0.24),(330.93,-0.26),(331.03,-0.27),(331.12,-0.29),
(331.23,-0.35),(331.3,-0.40),(331.38,-0.44),(331.46,-0.38),(331.53,-0.41),(331.6,-0.46),(331.69,-0.47),(331.79,-0.52),(331.9,-0.10),(331.98,0.52),
(332.04,0.40),(332.09,0.31),(332.16,-0.26),(332.24,-0.23),(332.3,0.10),(332.35,0.31),(332.42,0.38),(332.5,0.43),(332.57,0.35),(332.65,0.28),
(332.72,0.32),(332.8,0.34),(332.9,0.27),(332.99,0.22),(333.1,0.15),(333.18,0.10),(333.27,0.14),(333.36,0.16),(333.45,0.14),(333.55,0.19),
(333.64,0.13),(333.73,0.10),(333.82,0.12),(333.92,0.13),(334.1,0.09),(334.3,0.08),(334.48,0.11),(334.67,0.10),(334.85,0.08),(335.04,0.07),
(335.23,0.09),(335.42,0.10),(335.6,0.08),(335.8,0.07),(335.98,0.10),(336.17,0.12),(336.36,0.09),(336.55,0.04),(336.73,0.07),(336.85,-0.05),
(336.95,0.02),(337.1,0.04),(337.28,0.07),(337.48,0.08),(337.7,0.10),(337.85,0.09),(338.0,0.10),
]

# Dust impact rate R [impacts/day]
r_pts = [
(284.0,0.037),(315.1,0.19),(321.0,0.10),(331.07,7.8),(331.48,2.0),(332.05,6.0),(332.15,5.8),(332.34,2.5),(332.73,11.5),(332.83,78),
(332.86,4.6),(333.08,2.3),(333.48,25),(333.54,7.0),(333.7,9.0),(333.8,43),(333.85,25),(333.9,49),(333.95,18),(333.98,49),
(334.03,45),(334.39,0.00316),
]

# interval markers
light_bands = [(284.0, 285.79), (298.63, 301.52), (307.37, 310.33), (316.78, 319.90), (331.31, 333.21)]
dark_band = (324.42, 326.61)
r_band = (331.07, 334.0)
marker_day = 311.0

day_ticks = list(range(284, 339, 3))
dist_days = [284, 293, 302, 311, 320, 329, 338]
dist_labels = ["3.65", "3.60", "3.54", "3.49", "3.43", "3.37", "3.32"]

panels = [
    dict(pts=vr_pts, lim=(300, 600), ticks=[300, 400, 500, 600], labels=["300", "400", "500", "600"],
         minor=10, ylabel="Vr [km/s]", lw=2.0),
    dict(pts=np_pts, lim=(0, 2.5), ticks=[0, 0.5, 1.0, 1.5, 2.0, 2.5],
         labels=["0.0", "0.5", "1.0", "1.5", "2.0", "2.5"], minor=0.05, ylabel="Np [cm$^{-3}$]", lw=1.5),
    dict(pts=tp_pts, lim=(0, 4), ticks=[0, 1, 2, 3, 4], labels=["0", "1", "2", "3", "4"],
         minor=0.1, ylabel="Tp [X10$^5$K]", lw=1.6),
    dict(pts=b_pts, lim=(0, 5), ticks=[0, 1, 2, 3, 4, 5], labels=["0", "1", "2", "3", "4", "5"],
         minor=0.1, ylabel="|B| [nT]", lw=1.4),
    dict(pts=phi_pts, lim=(-186, 186), ticks=[-100, 0, 100], labels=["\u2212100", "0", "100"],
         minor=10, ylabel="Phi [\u00b0]", zero=True, lw=1.3),
    dict(pts=fn_pts, lim=(-0.5, 0.5), ticks=[-0.4, -0.2, 0.0, 0.2, 0.4],
         labels=["\u22120.4", "\u22120.2", "0.0", "0.2", "0.4"], minor=0.02, ylabel="Fn", zero=True, lw=1.3),
    dict(pts=r_pts, lim=(0.01, 100), ticks=[0.01, 0.1, 1, 10, 100],
         labels=["1.E\u221202", "1.E\u221201", "1.E+00", "1.E+01", "1.E+02"], log=True,
         ylabel="R [imp/day]", lw=1.3),
]

# ---------------------------------------------------------------- style
sns.set_theme(style="white")
plt.rcParams["font.family"] = ["DejaVu Sans"]
plt.rcParams["lines.scale_dashes"] = False
plt.rcParams["axes.unicode_minus"] = True

W, H = 1803, 1429
fig = plt.figure(figsize=(W / 100, H / 100), dpi=100)
fig.patch.set_facecolor("white")

edges = [78, 231, 423, 614, 807, 999, 1191, 1343]
X0, X1 = 133, 1793
LIGHT, DARK, RSHADE = "#b4b4b4", "#777777", "#989898"
FRAME = "#5c5c5c"
MAJ_LEN, MIN_LEN, TW = 23, 11, 1.5
YTICK_FS, YLABEL_FS = 15, 17


def log_minor():
    return LogLocator(base=10, subs=np.arange(2, 10), numticks=50)


axes = []
for i, cfg in enumerate(panels):
    top, bot = edges[i], edges[i + 1]
    ax = fig.add_axes([X0 / W, 1 - bot / H, (X1 - X0) / W, (bot - top) / H])
    ax.set_facecolor("white")
    log = cfg.get("log", False)
    if log:
        ax.set_yscale("log")

    # shaded intervals
    if log:
        ax.axvspan(*r_band, color=RSHADE, lw=0, zorder=0)
    else:
        for a, b in light_bands:
            ax.axvspan(a, b, color=LIGHT, lw=0, zorder=0)
        ax.axvspan(*dark_band, color=DARK, lw=0, zorder=0)

    # reference lines
    ax.axvline(marker_day, color="#3c3c3c", lw=1.1, dashes=(7, 5), zorder=1)
    ax.axvline(284, color="#3c3c3c", lw=1.5, dashes=(7, 4), zorder=4, clip_on=False)
    if cfg.get("zero"):
        ax.axhline(0, color="#6e6e6e", lw=1.5, dashes=(14, 9), zorder=1)

    d, v = zip(*cfg["pts"])
    df = pd.DataFrame({"day": d, "value": v})
    sns.lineplot(data=df, x="day", y="value", ax=ax, color="black", linewidth=cfg["lw"],
                 sort=False, estimator=None, legend=False, zorder=3)

    ax.set_xlim(284, 338)
    ax.set_ylim(*cfg["lim"])
    ax.set_xlabel("")
    ax.set_ylabel(cfg["ylabel"], fontsize=YLABEL_FS, labelpad=6)

    for s in ("left", "right"):
        ax.spines[s].set_visible(False)
    for s in ("top", "bottom"):
        ax.spines[s].set_color(FRAME)
        ax.spines[s].set_linewidth(1.5)

    # x ticks inside on both edges
    ax.set_xticks(day_ticks)
    ax.xaxis.set_minor_locator(NullLocator())
    ax.tick_params(axis="x", which="major", direction="in", top=True, bottom=True,
                   length=6, width=1.1, color="#333333", labelbottom=False, labeltop=False)

    # right: dense comb of ticks on a twin axis
    tw = ax.twinx()
    if log:
        tw.set_yscale("log")
    tw.set_ylim(*cfg["lim"])
    tw.set_yticks(cfg["ticks"])
    tw.yaxis.set_major_formatter(NullFormatter())
    tw.yaxis.set_minor_locator(log_minor() if log else MultipleLocator(cfg["minor"]))
    tw.yaxis.set_minor_formatter(NullFormatter())
    tw.tick_params(axis="y", which="major", direction="in", length=MAJ_LEN, width=TW,
                   color="black", labelright=False)
    tw.tick_params(axis="y", which="minor", direction="in", length=MIN_LEN, width=TW,
                   color="black", labelright=False)
    for s in ("left", "top", "bottom"):
        tw.spines[s].set_visible(False)
    tw.spines["right"].set_color("black")
    tw.spines["right"].set_linewidth(2.2)
    tw.grid(False)

    # left: labels, plus end / decade ticks
    ax.set_yticks(cfg["ticks"], cfg["labels"])
    if log:
        ax.yaxis.set_minor_locator(log_minor())
        ax.yaxis.set_minor_formatter(NullFormatter())
        ax.tick_params(axis="y", which="major", left=True, right=False, direction="in",
                       length=MAJ_LEN, width=TW, color="black", labelsize=YTICK_FS, pad=4.5)
        ax.tick_params(axis="y", which="minor", left=True, right=False, direction="in",
                       length=MIN_LEN, width=TW, color="black")
    else:
        ax.yaxis.set_minor_locator(FixedLocator(list(cfg["lim"])))
        ax.yaxis.set_minor_formatter(NullFormatter())
        ax.tick_params(axis="y", which="major", left=True, right=False, length=0,
                       labelsize=YTICK_FS, pad=4.5)
        ax.tick_params(axis="y", which="minor", left=True, right=False, direction="in",
                       length=MAJ_LEN, width=TW, color="black")
    labs = ax.get_yticklabels()
    lo, hi = cfg["lim"]
    for t, lab in zip(cfg["ticks"], labs):
        if np.isclose(t, hi):
            lab.set_va("top")
        elif np.isclose(t, lo):
            lab.set_va("bottom")
    ax.grid(False)
    axes.append(ax)

# top axis: distance from Jupiter
ax_top = axes[0]
top_text = [dist_labels[dist_days.index(d)] if d in dist_days else "" for d in day_ticks]
ax_top.set_xticks(day_ticks, top_text)
ax_top.tick_params(axis="x", labeltop=True, labelbottom=False, pad=10, labelsize=13)
for lab in ax_top.get_xticklabels():
    lab.set_ha("right")
    lab.set_fontweight("bold")

# bottom axis: day of year
ax_bot = axes[-1]
ax_bot.set_xticks(day_ticks, [str(d) for d in day_ticks])
ax_bot.tick_params(axis="x", labelbottom=True, pad=14, labelsize=13)
for lab in ax_bot.get_xticklabels():
    lab.set_ha("right")
    lab.set_fontweight("bold")

ax_bot.text(0.981, 0.93, "201", transform=ax_bot.transAxes, ha="right", va="top",
            fontsize=33, fontweight=300, family=["Roboto", "Open Sans", "DejaVu Sans"], zorder=6)

fig.text(133 / W, 1 - 6 / H, "Fig.10 Second Flyby, Year 2002, Days 284-338", ha="left",
         va="baseline", fontsize=23.5, family=["Liberation Sans", "DejaVu Sans"])
fig.text(966 / W, 1 - 25 / H, "Jovicentric distance [AU]", ha="center", va="center",
         fontsize=23, family=["Liberation Sans Narrow", "Liberation Sans", "DejaVu Sans"])
fig.text(983 / W, 1 - 1411 / H, "2002, day of year", ha="center", va="center", fontsize=21)

fig.savefig("out.png", dpi=100, facecolor="white")
